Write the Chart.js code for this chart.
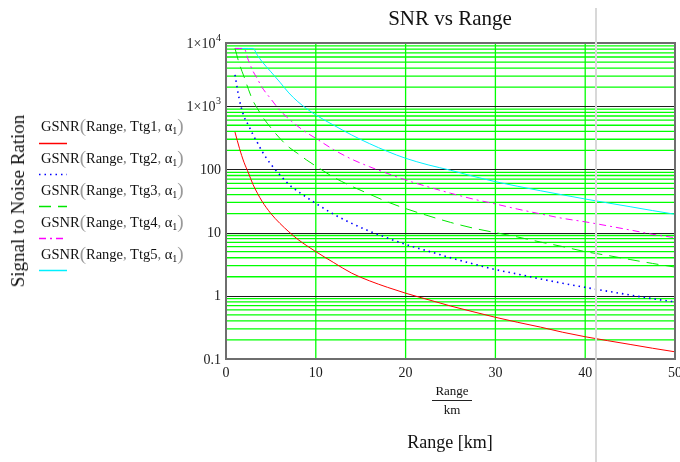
<!DOCTYPE html>
<html>
<head>
<meta charset="utf-8">
<script src="https://cdn.jsdelivr.net/npm/chart.js@4.4.1/dist/chart.umd.min.js"></script>
<style>
  html, body { margin:0; padding:0; background:#fff; overflow:hidden; }
  #wrap { position:relative; width:680px; height:462px; overflow:hidden; font-family:"Liberation Serif","Times New Roman",serif; color:#111; }
  #c { position:absolute; left:0; top:0; }
  .abs { position:absolute; white-space:nowrap; }
  #title { left:350px; width:200px; top:6px; text-align:center; font-size:21px; }
  #ytitle { left:18px; top:201px; font-size:19px; transform:translate(-50%,-50%) rotate(-90deg); }
  #xfrac { left:432px; width:40px; top:384px; text-align:center; font-size:13px; line-height:13px; }
  #xfrac .num { display:block; padding-bottom:3px; border-bottom:1px solid #222; }
  #xfrac .den { display:block; padding-top:2px; }
  #xtitle { left:350px; width:200px; top:432px; text-align:center; font-size:18px; }
  .leg { position:absolute; left:41px; font-size:14.5px; white-space:nowrap; transform:translateY(-50%); }
  .leg .p { color:#999; font-size:19px; vertical-align:-1px; }
  .leg .cm { color:#777; }
  .leg sub { font-size:10px; vertical-align:-3px; }
  .sample { position:absolute; left:39px; width:30px; height:3px; }
  #cursor { position:absolute; left:595px; top:8px; width:2px; height:454px; background:#d8d8d8; }
</style>
</head>
<body>
<div id="wrap">
  <canvas id="c" width="700" height="462"></canvas>
  <div class="abs" id="title">SNR vs Range</div>
  <div class="abs" id="ytitle">Signal to Noise Ration</div>
  <div class="abs" id="xfrac"><span class="num">Range</span><span class="den">km</span></div>
  <div class="abs" id="xtitle">Range [km]</div>
  <div id="legend"></div>
  <div id="cursor"></div>
</div>
<script>
// ---- data ----
const ranges = [1, 1.5, 2, 2.5, 3, 3.5, 4, 5, 6, 7, 8, 9, 10, 12, 14, 16, 18, 20, 22.5, 25, 27.5, 30, 32.5, 35, 37.5, 40, 42.5, 45, 47.5, 50];
const gsnrTtg1 = [390, 215, 130, 88, 58, 42, 31.5, 20, 14, 10.3, 7.8, 6.2, 5.0, 3.35, 2.28, 1.72, 1.36, 1.1, 0.87, 0.69, 0.56, 0.457, 0.38, 0.32, 0.265, 0.225, 0.195, 0.17, 0.148, 0.13];
const gsnrTtg2 = [3120, 1250, 690, 500, 355, 265, 195, 120, 82, 58, 45, 36, 29, 19.5, 14, 10.5, 8.2, 6.5, 5.1, 4.0, 3.2, 2.6, 2.2, 1.85, 1.58, 1.36, 1.18, 1.03, 0.9, 0.8];
const gsnrTtg3 = [8200, 4600, 2950, 1850, 1220, 920, 700, 455, 310, 225, 178, 140, 113, 75, 54, 40.5, 30.5, 24, 18.5, 14.5, 11.8, 10, 8.5, 7.1, 6.0, 5.0, 4.35, 3.75, 3.25, 2.85];
const gsnrTtg4 = [8200, 8200, 8200, 5300, 3600, 2700, 2000, 1300, 860, 630, 480, 380, 310, 205, 145, 110, 86, 68, 53, 42, 34, 28.4, 23.5, 19.8, 16.8, 14.8, 12.8, 11, 9.4, 8.3];
const gsnrTtg5 = [8200, 8200, 8200, 8200, 8200, 6400, 5100, 3500, 2400, 1620, 1180, 910, 726, 500, 350, 255, 192, 150, 118, 97, 78, 64, 54, 46, 39.5, 34, 29.5, 25.7, 22.3, 19.5];
const seriesNames = ["Ttg1", "Ttg2", "Ttg3", "Ttg4", "Ttg5"];
const xTicks = [0, 10, 20, 30, 40, 50];
const yDecades = [0.1, 1, 10, 100, 1000, 10000];
const yTickLabels = ["0.1", "1", "10", "100", "1×10^3", "1×10^4"];

// ---- styling ----
const colors = ["#ff0000", "#0000ff", "#00e600", "#ff00ff", "#00f0ff"];
const dashes = [[], [1.5, 4], [12, 7], [7, 4, 2, 4], []];
const widths = [1, 1.6, 1, 1, 1];
const allSeries = [gsnrTtg1, gsnrTtg2, gsnrTtg3, gsnrTtg4, gsnrTtg5];

const datasets = allSeries.map((vals, i) => ({
  label: "GSNR(Range, " + seriesNames[i] + ", α1)",
  data: ranges.map((r, k) => ({ x: r, y: vals[k] })),
  borderColor: colors[i],
  borderWidth: widths[i],
  borderDash: dashes[i],
  pointRadius: 0,
  fill: false,
  cubicInterpolationMode: "monotone"
}));

// minor values for the log grid
const yGridVals = [];
for (let e = -1; e <= 3; e++) {
  for (let m = 2; m <= 9; m++) yGridVals.push(Number((m * Math.pow(10, e)).toPrecision(3)));
}

const gridPlugin = {
  id: "mcgrid",
  beforeDatasetsDraw(chart) {
    const { ctx, chartArea: a, scales: { x, y } } = chart;
    ctx.save();
    ctx.lineWidth = 1.3;
    ctx.strokeStyle = "#00ff00";
    yGridVals.forEach(v => {
      const py = y.getPixelForValue(v);
      ctx.beginPath(); ctx.moveTo(a.left, py); ctx.lineTo(a.right, py); ctx.stroke();
    });
    xTicks.slice(1, -1).forEach(v => {
      const px = x.getPixelForValue(v);
      ctx.beginPath(); ctx.moveTo(px, a.top); ctx.lineTo(px, a.bottom); ctx.stroke();
    });
    ctx.lineWidth = 1;
    ctx.strokeStyle = "#1e1e1e";
    yDecades.slice(1, -1).forEach(v => {
      const py = Math.round(y.getPixelForValue(v)) + 0.5;
      ctx.beginPath(); ctx.moveTo(a.left, py); ctx.lineTo(a.right, py); ctx.stroke();
    });
    ctx.restore();
  },
  afterDraw(chart) {
    const { ctx, chartArea: a, scales: { y } } = chart;
    ctx.save();
    ctx.strokeStyle = "#6e6e6e";
    ctx.lineWidth = 2;
    ctx.strokeRect(Math.round(a.left), Math.round(a.top), Math.round(a.right - a.left), Math.round(a.bottom - a.top));
    ctx.fillStyle = "#1a1a1a";
    ctx.textBaseline = "middle";
    ctx.textAlign = "left";
    yDecades.forEach((v, i) => {
      const py = y.getPixelForValue(v);
      const parts = yTickLabels[i].split("^");
      ctx.font = "14px 'Liberation Serif'";
      const w1 = ctx.measureText(parts[0]).width;
      let w2 = 0;
      if (parts[1]) { ctx.font = "10px 'Liberation Serif'"; w2 = ctx.measureText(parts[1]).width + 0.5; }
      const xr = a.left - 5;
      ctx.font = "14px 'Liberation Serif'";
      ctx.fillText(parts[0], xr - w1 - w2, py + 1);
      if (parts[1]) {
        ctx.font = "10px 'Liberation Serif'";
        ctx.fillText(parts[1], xr - w2 + 0.5, py - 5);
      }
    });
    ctx.restore();
  }
};

new Chart(document.getElementById("c"), {
  type: "line",
  data: { datasets },
  plugins: [gridPlugin],
  options: {
    responsive: false,
    animation: false,
    devicePixelRatio: 1,
    layout: { padding: { top: 43, right: 25, left: 0, bottom: 0 } },
    plugins: { legend: { display: false }, title: { display: false }, tooltip: { enabled: false } },
    scales: {
      x: {
        type: "linear", min: 0, max: 50,
        afterBuildTicks: s => { s.ticks = xTicks.map(v => ({ value: v })); },
        afterFit: s => { s.height = 103; },
        border: { display: false },
        grid: { display: false, drawTicks: false },
        ticks: { padding: 6, color: "#1a1a1a", font: { family: "Liberation Serif", size: 14 }, autoSkip: false, maxRotation: 0 }
      },
      y: {
        type: "logarithmic", min: 0.1, max: 10000,
        afterBuildTicks: s => { s.ticks = yDecades.map(v => ({ value: v })); },
        afterFit: s => { s.width = 226; },
        border: { display: false },
        grid: { display: false, drawTicks: false },
        ticks: { display: false }
      }
    }
  }
});

// ---- legend on the left ----
const legend = document.getElementById("legend");
const rowY = [126, 157.5, 189.5, 221.5, 253.5];
seriesNames.forEach((n, i) => {
  const d = document.createElement("div");
  d.className = "leg";
  d.style.top = rowY[i] + "px";
  d.innerHTML = 'GSNR<span class="p">(</span>Range<span class="cm">,</span> ' + n +
    '<span class="cm">,</span> α<sub>1</sub><span class="p">)</span>';
  legend.appendChild(d);
  const svgNS = "http://www.w3.org/2000/svg";
  const svg = document.createElementNS(svgNS, "svg");
  svg.setAttribute("class", "sample");
  svg.setAttribute("width", "30");
  svg.setAttribute("height", "3");
  svg.style.top = (rowY[i] + 15.5) + "px";
  const ln = document.createElementNS(svgNS, "line");
  ln.setAttribute("x1", "0"); ln.setAttribute("x2", "28");
  ln.setAttribute("y1", "1.5"); ln.setAttribute("y2", "1.5");
  ln.setAttribute("stroke", colors[i]);
  ln.setAttribute("stroke-width", "1.5");
  if (dashes[i].length) ln.setAttribute("stroke-dasharray", dashes[i].join(" "));
  svg.appendChild(ln);
  legend.appendChild(svg);
});
</script>
</body>
</html>
